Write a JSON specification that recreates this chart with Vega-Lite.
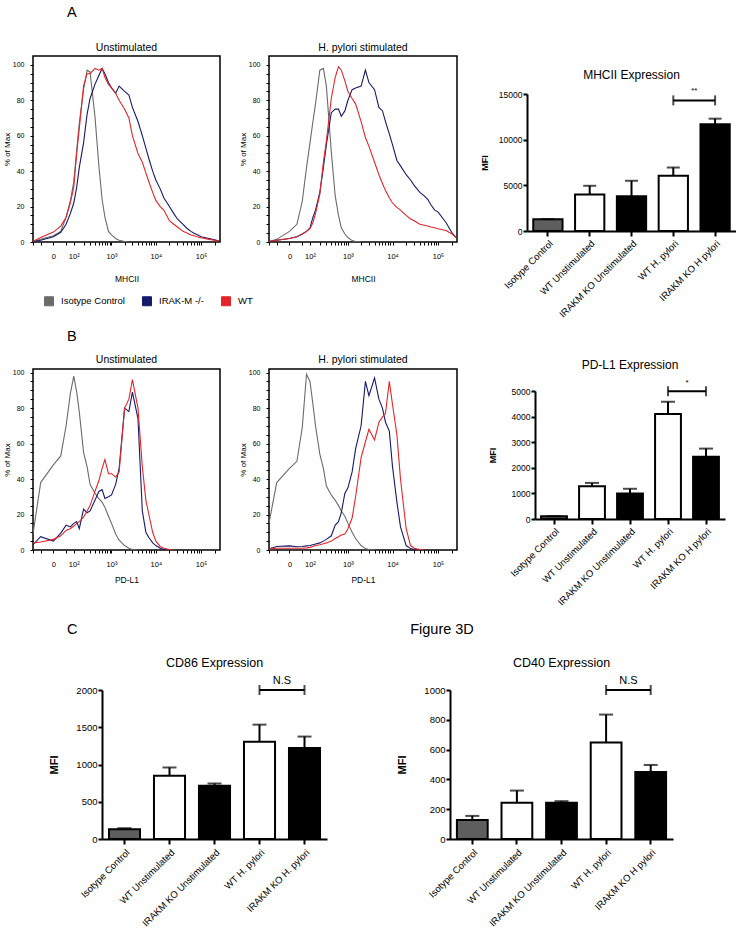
{
"$schema": "https://vega.github.io/schema/vega-lite/v6.json",
"padding": {"left": 2, "top": 4, "right": 0, "bottom": 0},
"bounds": "flush",
"spacing": 0,
"columns": 5,
"config": {
  "view": {"stroke": null},
  "font": "Liberation Sans",
  "title": {"fontWeight": "normal", "color": "black", "font": "Liberation Sans"},
  "axis": {"domainColor": "black", "tickColor": "black", "labelColor": "black", "titleColor": "black", "grid": false, "labelFont": "Liberation Sans", "titleFont": "Liberation Sans"},
  "legend": {"labelFont": "Liberation Sans", "labelColor": "black"}
},
"datasets": {
  "hist": [
    {"p":"A1","x":-100,"iso":0.3,"ko":0.3,"wt":0.4},
    {"p":"A1","x":-50,"iso":1.5,"ko":1,"wt":2.5},
    {"p":"A1","x":0,"iso":3.5,"ko":3,"wt":5.6},
    {"p":"A1","x":25,"iso":6,"ko":5.5,"wt":9},
    {"p":"A1","x":50,"iso":14,"ko":10,"wt":14},
    {"p":"A1","x":75,"iso":23,"ko":16,"wt":22},
    {"p":"A1","x":100,"iso":34,"ko":22,"wt":31},
    {"p":"A1","x":125,"iso":52,"ko":31,"wt":50},
    {"p":"A1","x":150,"iso":67,"ko":42,"wt":64},
    {"p":"A1","x":200,"iso":86,"ko":56,"wt":88},
    {"p":"A1","x":250,"iso":97,"ko":72,"wt":95},
    {"p":"A1","x":300,"iso":96,"ko":81,"wt":95},
    {"p":"A1","x":400,"iso":71,"ko":89,"wt":98},
    {"p":"A1","x":500,"iso":43,"ko":94,"wt":97},
    {"p":"A1","x":600,"iso":24,"ko":98,"wt":98},
    {"p":"A1","x":700,"iso":14,"ko":95,"wt":93},
    {"p":"A1","x":850,"iso":6,"ko":90,"wt":89},
    {"p":"A1","x":1000,"iso":4,"ko":87,"wt":87},
    {"p":"A1","x":1250,"iso":2,"ko":84,"wt":84},
    {"p":"A1","x":1500,"iso":1,"ko":88,"wt":80},
    {"p":"A1","x":2000,"iso":0.3,"ko":85,"wt":75},
    {"p":"A1","x":2500,"iso":0,"ko":83,"wt":70},
    {"p":"A1","x":3000,"iso":null,"ko":76,"wt":60},
    {"p":"A1","x":4000,"iso":null,"ko":68,"wt":50},
    {"p":"A1","x":5000,"iso":null,"ko":60,"wt":45},
    {"p":"A1","x":6000,"iso":null,"ko":53,"wt":39},
    {"p":"A1","x":7000,"iso":null,"ko":47,"wt":34},
    {"p":"A1","x":8500,"iso":null,"ko":40,"wt":28},
    {"p":"A1","x":10000,"iso":null,"ko":35,"wt":23.5},
    {"p":"A1","x":12500,"iso":null,"ko":30,"wt":20},
    {"p":"A1","x":15000,"iso":null,"ko":25,"wt":18},
    {"p":"A1","x":20000,"iso":null,"ko":20,"wt":12},
    {"p":"A1","x":25000,"iso":null,"ko":16,"wt":10},
    {"p":"A1","x":30000,"iso":null,"ko":13,"wt":8.5},
    {"p":"A1","x":40000,"iso":null,"ko":10,"wt":6},
    {"p":"A1","x":50000,"iso":null,"ko":7.5,"wt":5},
    {"p":"A1","x":60000,"iso":null,"ko":6,"wt":4},
    {"p":"A1","x":70000,"iso":null,"ko":5,"wt":3.5},
    {"p":"A1","x":85000,"iso":null,"ko":4,"wt":2.8},
    {"p":"A1","x":100000,"iso":null,"ko":3,"wt":2.4},
    {"p":"A1","x":150000,"iso":null,"ko":2,"wt":1.5},
    {"p":"A1","x":200000,"iso":null,"ko":1.2,"wt":1},
    {"p":"A1","x":250000,"iso":null,"ko":0.5,"wt":0.5},

    {"p":"A2","x":-100,"iso":0.3,"ko":0.3,"wt":0.3},
    {"p":"A2","x":-50,"iso":1.5,"ko":1,"wt":1},
    {"p":"A2","x":0,"iso":6,"ko":2,"wt":2},
    {"p":"A2","x":25,"iso":10,"ko":3,"wt":3},
    {"p":"A2","x":50,"iso":23,"ko":4.5,"wt":4.5},
    {"p":"A2","x":75,"iso":42,"ko":6,"wt":6},
    {"p":"A2","x":100,"iso":56,"ko":8,"wt":7.5},
    {"p":"A2","x":125,"iso":68,"ko":14,"wt":11},
    {"p":"A2","x":150,"iso":78,"ko":18,"wt":16},
    {"p":"A2","x":200,"iso":97,"ko":28,"wt":27},
    {"p":"A2","x":250,"iso":98,"ko":42,"wt":45},
    {"p":"A2","x":300,"iso":88,"ko":55,"wt":57},
    {"p":"A2","x":400,"iso":51,"ko":73,"wt":81},
    {"p":"A2","x":500,"iso":26,"ko":75,"wt":93},
    {"p":"A2","x":600,"iso":15,"ko":75,"wt":99},
    {"p":"A2","x":700,"iso":8,"ko":71,"wt":97},
    {"p":"A2","x":850,"iso":4.5,"ko":74,"wt":91},
    {"p":"A2","x":1000,"iso":2.5,"ko":80,"wt":85},
    {"p":"A2","x":1250,"iso":0.8,"ko":86,"wt":81},
    {"p":"A2","x":1500,"iso":0.2,"ko":87,"wt":78},
    {"p":"A2","x":2000,"iso":0,"ko":88,"wt":68},
    {"p":"A2","x":2500,"iso":null,"ko":97,"wt":59},
    {"p":"A2","x":3000,"iso":null,"ko":90,"wt":54},
    {"p":"A2","x":4000,"iso":null,"ko":86,"wt":45},
    {"p":"A2","x":5000,"iso":null,"ko":76,"wt":38},
    {"p":"A2","x":6000,"iso":null,"ko":74,"wt":33},
    {"p":"A2","x":7000,"iso":null,"ko":68,"wt":29},
    {"p":"A2","x":8500,"iso":null,"ko":61,"wt":25},
    {"p":"A2","x":10000,"iso":null,"ko":55,"wt":22},
    {"p":"A2","x":12500,"iso":null,"ko":46,"wt":19.5},
    {"p":"A2","x":15000,"iso":null,"ko":43,"wt":18},
    {"p":"A2","x":20000,"iso":null,"ko":38,"wt":15},
    {"p":"A2","x":25000,"iso":null,"ko":35,"wt":13},
    {"p":"A2","x":30000,"iso":null,"ko":32,"wt":12},
    {"p":"A2","x":40000,"iso":null,"ko":28,"wt":10},
    {"p":"A2","x":50000,"iso":null,"ko":26,"wt":9.5},
    {"p":"A2","x":60000,"iso":null,"ko":24,"wt":9},
    {"p":"A2","x":70000,"iso":null,"ko":21,"wt":8.5},
    {"p":"A2","x":85000,"iso":null,"ko":18,"wt":8},
    {"p":"A2","x":100000,"iso":null,"ko":17,"wt":7.5},
    {"p":"A2","x":150000,"iso":null,"ko":11,"wt":6.5},
    {"p":"A2","x":200000,"iso":null,"ko":5.5,"wt":4.7},
    {"p":"A2","x":250000,"iso":null,"ko":2.5,"wt":2.5},

    {"p":"B1","x":-100,"iso":9,"ko":3,"wt":4},
    {"p":"B1","x":-50,"iso":38,"ko":7.5,"wt":4.5},
    {"p":"B1","x":0,"iso":48,"ko":5,"wt":6},
    {"p":"B1","x":25,"iso":53,"ko":9.5,"wt":8},
    {"p":"B1","x":50,"iso":70,"ko":14,"wt":11},
    {"p":"B1","x":75,"iso":88,"ko":13,"wt":12},
    {"p":"B1","x":100,"iso":98,"ko":15,"wt":13.5},
    {"p":"B1","x":125,"iso":89,"ko":16,"wt":15},
    {"p":"B1","x":150,"iso":78,"ko":12,"wt":16},
    {"p":"B1","x":200,"iso":55,"ko":23,"wt":18.5},
    {"p":"B1","x":250,"iso":47,"ko":21,"wt":22},
    {"p":"B1","x":300,"iso":37,"ko":22,"wt":25},
    {"p":"B1","x":400,"iso":32,"ko":28,"wt":33},
    {"p":"B1","x":500,"iso":29,"ko":33,"wt":39},
    {"p":"B1","x":600,"iso":27,"ko":34,"wt":46},
    {"p":"B1","x":700,"iso":24,"ko":29,"wt":51},
    {"p":"B1","x":850,"iso":19,"ko":30,"wt":43},
    {"p":"B1","x":1000,"iso":15,"ko":31,"wt":43},
    {"p":"B1","x":1250,"iso":9,"ko":37,"wt":41},
    {"p":"B1","x":1500,"iso":5.5,"ko":46,"wt":44},
    {"p":"B1","x":2000,"iso":2.5,"ko":80,"wt":80},
    {"p":"B1","x":2500,"iso":1,"ko":78,"wt":85},
    {"p":"B1","x":3000,"iso":0.3,"ko":89,"wt":96},
    {"p":"B1","x":4000,"iso":0,"ko":74,"wt":80},
    {"p":"B1","x":5000,"iso":null,"ko":22,"wt":47},
    {"p":"B1","x":6000,"iso":null,"ko":10,"wt":28},
    {"p":"B1","x":7000,"iso":null,"ko":7,"wt":20},
    {"p":"B1","x":8500,"iso":null,"ko":4,"wt":10},
    {"p":"B1","x":10000,"iso":null,"ko":2.5,"wt":5},
    {"p":"B1","x":12500,"iso":null,"ko":1,"wt":2},
    {"p":"B1","x":15000,"iso":null,"ko":0.3,"wt":1},
    {"p":"B1","x":20000,"iso":null,"ko":0,"wt":0.2},
    {"p":"B1","x":25000,"iso":null,"ko":null,"wt":0},

    {"p":"B2","x":-100,"iso":15,"ko":0.7,"wt":0.5},
    {"p":"B2","x":-50,"iso":38,"ko":2,"wt":1},
    {"p":"B2","x":0,"iso":46,"ko":2.3,"wt":1},
    {"p":"B2","x":25,"iso":50,"ko":1.8,"wt":1},
    {"p":"B2","x":50,"iso":69,"ko":2,"wt":1},
    {"p":"B2","x":75,"iso":99,"ko":2.3,"wt":1.2},
    {"p":"B2","x":100,"iso":95,"ko":2.5,"wt":1.5},
    {"p":"B2","x":125,"iso":82,"ko":3,"wt":2},
    {"p":"B2","x":150,"iso":70,"ko":3.4,"wt":2.5},
    {"p":"B2","x":200,"iso":54,"ko":4,"wt":3},
    {"p":"B2","x":250,"iso":46,"ko":5,"wt":3.5},
    {"p":"B2","x":300,"iso":36,"ko":6,"wt":4},
    {"p":"B2","x":400,"iso":31,"ko":8,"wt":5},
    {"p":"B2","x":500,"iso":28,"ko":14,"wt":6.5},
    {"p":"B2","x":600,"iso":25,"ko":16,"wt":7.5},
    {"p":"B2","x":700,"iso":22,"ko":21,"wt":8.5},
    {"p":"B2","x":850,"iso":19,"ko":32,"wt":9},
    {"p":"B2","x":1000,"iso":15,"ko":35,"wt":12},
    {"p":"B2","x":1250,"iso":10,"ko":44,"wt":18},
    {"p":"B2","x":1500,"iso":6.5,"ko":57,"wt":30},
    {"p":"B2","x":2000,"iso":2.5,"ko":70,"wt":52},
    {"p":"B2","x":2500,"iso":0.8,"ko":95,"wt":61},
    {"p":"B2","x":3000,"iso":0.2,"ko":87,"wt":68},
    {"p":"B2","x":4000,"iso":0,"ko":97,"wt":62},
    {"p":"B2","x":5000,"iso":null,"ko":85,"wt":72},
    {"p":"B2","x":6000,"iso":null,"ko":80,"wt":75},
    {"p":"B2","x":7000,"iso":null,"ko":72,"wt":77},
    {"p":"B2","x":8500,"iso":null,"ko":67,"wt":95},
    {"p":"B2","x":10000,"iso":null,"ko":47,"wt":82},
    {"p":"B2","x":12500,"iso":null,"ko":27,"wt":65},
    {"p":"B2","x":15000,"iso":null,"ko":13,"wt":40},
    {"p":"B2","x":20000,"iso":null,"ko":2.5,"wt":12},
    {"p":"B2","x":25000,"iso":null,"ko":0.8,"wt":2.5},
    {"p":"B2","x":30000,"iso":null,"ko":0.3,"wt":1},
    {"p":"B2","x":40000,"iso":null,"ko":0,"wt":0.2},
    {"p":"B2","x":50000,"iso":null,"ko":null,"wt":0}
  ],
  "bars": [
    {"chart":"MHCII","grp":"Isotype Control","g":"iso","mean":1300,"hi":1300},
    {"chart":"MHCII","grp":"WT Unstimulated","g":"wt","mean":4000,"hi":4950},
    {"chart":"MHCII","grp":"IRAKM KO Unstimulated","g":"ko","mean":3800,"hi":5500},
    {"chart":"MHCII","grp":"WT H. pylori","g":"wt","mean":6050,"hi":6950},
    {"chart":"MHCII","grp":"IRAKM KO H pylori","g":"ko","mean":11700,"hi":12300},
    {"chart":"PD-L1","grp":"Isotype Control","g":"iso","mean":110,"hi":110},
    {"chart":"PD-L1","grp":"WT Unstimulated","g":"wt","mean":1280,"hi":1410},
    {"chart":"PD-L1","grp":"IRAKM KO Unstimulated","g":"ko","mean":1000,"hi":1180},
    {"chart":"PD-L1","grp":"WT H. pylori","g":"wt","mean":4100,"hi":4580},
    {"chart":"PD-L1","grp":"IRAKM KO H pylori","g":"ko","mean":2430,"hi":2750},
    {"chart":"CD86","grp":"Isotype Control","g":"iso","mean":130,"hi":145},
    {"chart":"CD86","grp":"WT Unstimulated","g":"wt","mean":850,"hi":960},
    {"chart":"CD86","grp":"IRAKM KO Unstimulated","g":"ko","mean":715,"hi":745},
    {"chart":"CD86","grp":"WT H. pylori","g":"wt","mean":1305,"hi":1535},
    {"chart":"CD86","grp":"IRAKM KO H. pylori","g":"ko","mean":1220,"hi":1375},
    {"chart":"CD40","grp":"Isotype Control","g":"iso","mean":128,"hi":155},
    {"chart":"CD40","grp":"WT Unstimulated","g":"wt","mean":243,"hi":325},
    {"chart":"CD40","grp":"IRAKM KO Unstimulated","g":"ko","mean":243,"hi":254},
    {"chart":"CD40","grp":"WT H. pylori","g":"wt","mean":647,"hi":835},
    {"chart":"CD40","grp":"IRAKM KO H pylori","g":"ko","mean":449,"hi":497}
  ],
  "sig": [
    {"chart":"MHCII","grp":"WT H. pylori","y":14300,"lab":"**"},
    {"chart":"MHCII","grp":"IRAKM KO H pylori","y":14300,"lab":""},
    {"chart":"PD-L1","grp":"WT H. pylori","y":4990,"lab":"*"},
    {"chart":"PD-L1","grp":"IRAKM KO H pylori","y":4990,"lab":""},
    {"chart":"CD86","grp":"WT H. pylori","y":2000,"lab":"N.S"},
    {"chart":"CD86","grp":"IRAKM KO H. pylori","y":2000,"lab":""},
    {"chart":"CD40","grp":"WT H. pylori","y":1000,"lab":"N.S"},
    {"chart":"CD40","grp":"IRAKM KO H pylori","y":1000,"lab":""}
  ]
},
"concat": [
  {
    "width": 187, "height": 186,
    "view": {"stroke": "black", "strokeWidth": 1.5},
    "title": {"text": "Unstimulated", "fontSize": 10.5, "offset": 3},
    "data": {"name": "hist"},
    "transform": [{"filter": "datum.p === 'A1'"}, {"fold": ["iso", "ko", "wt"], "as": ["s", "pct"]}],
    "mark": {"type": "line", "strokeWidth": 1.1, "clip": true},
    "encoding": {
      "x": {"field": "x", "type": "quantitative", "scale": {"type": "symlog", "constant": 55, "domain": [-100, 262144], "nice": false},
            "axis": {"title": "MHCII", "titleFontSize": 8.5, "titleFontWeight": "normal", "titlePadding": 15, "values": [-100,-50,0,50,100,200,300,400,500,600,700,800,900,1000,2000,3000,4000,5000,6000,7000,8000,9000,10000,20000,30000,40000,50000,60000,70000,80000,90000,100000,200000], "labelExpr": "datum.value === 0 ? '0' : datum.value === 100 ? '10²' : datum.value === 1000 ? '10³' : datum.value === 10000 ? '10⁴' : datum.value === 100000 ? '10⁵' : ''", "labelFontSize": 7.5, "tickSize": 3, "labelPadding": 7, "domain": false, "labelOverlap": false, "labelFlush": false}},
      "y": {"field": "pct", "type": "quantitative", "scale": {"domain": [0, 105], "nice": false},
            "axis": {"title": "% of Max", "titleFontSize": 8, "titleFontWeight": "normal", "titlePadding": 1, "values": [0,5,10,15,20,25,30,35,40,45,50,55,60,65,70,75,80,85,90,95,100], "labelExpr": "datum.value % 20 === 0 ? datum.label : ''", "labelFontSize": 7, "tickSize": 3, "labelPadding": 6, "domain": false, "labelOverlap": false}},
      "color": {"field": "s", "type": "nominal", "scale": {"domain": ["iso", "ko", "wt"], "range": ["#6b6b6b", "#161a6b", "#e3262a"]},
                "legend": {"orient": "none", "legendX": 11, "legendY": 240, "direction": "horizontal", "title": null, "symbolType": "square", "symbolSize": 81, "symbolStrokeColor": "black", "symbolStrokeWidth": 1, "labelFontSize": 9.5, "labelOffset": 7, "columnPadding": 15, "padding": 0,
                           "labelExpr": "datum.label === 'iso' ? 'Isotype Control' : datum.label === 'ko' ? 'IRAK-M -/-' : 'WT'",
                           "encode": {"symbols": {"update": {"fill": {"scale": "color", "field": "value"}, "fillOpacity": {"value": 1}, "stroke": {"value": "black"}}}}}}
    }
  },
  {"width": 49, "height": 10, "title": {"text": "A", "fontSize": 14.5, "anchor": "start", "frame": "group", "dx": -153, "offset": 35}, "data": {"values": [{}]}, "mark": {"type": "text", "text": ""}},
  {
    "width": 188, "height": 186,
    "view": {"stroke": "black", "strokeWidth": 1.5},
    "title": {"text": "H. pylori stimulated", "fontSize": 10.5, "offset": 3},
    "data": {"name": "hist"},
    "transform": [{"filter": "datum.p === 'A2'"}, {"fold": ["iso", "ko", "wt"], "as": ["s", "pct"]}],
    "mark": {"type": "line", "strokeWidth": 1.1, "clip": true},
    "encoding": {
      "x": {"field": "x", "type": "quantitative", "scale": {"type": "symlog", "constant": 55, "domain": [-100, 262144], "nice": false},
            "axis": {"title": "MHCII", "titleFontSize": 8.5, "titleFontWeight": "normal", "titlePadding": 15, "values": [-100,-50,0,50,100,200,300,400,500,600,700,800,900,1000,2000,3000,4000,5000,6000,7000,8000,9000,10000,20000,30000,40000,50000,60000,70000,80000,90000,100000,200000], "labelExpr": "datum.value === 0 ? '0' : datum.value === 100 ? '10²' : datum.value === 1000 ? '10³' : datum.value === 10000 ? '10⁴' : datum.value === 100000 ? '10⁵' : ''", "labelFontSize": 7.5, "tickSize": 3, "labelPadding": 7, "domain": false, "labelOverlap": false, "labelFlush": false}},
      "y": {"field": "pct", "type": "quantitative", "scale": {"domain": [0, 105], "nice": false},
            "axis": {"title": "% of Max", "titleFontSize": 8, "titleFontWeight": "normal", "titlePadding": 1, "values": [0,5,10,15,20,25,30,35,40,45,50,55,60,65,70,75,80,85,90,95,100], "labelExpr": "datum.value % 20 === 0 ? datum.label : ''", "labelFontSize": 7, "tickSize": 3, "labelPadding": 6, "domain": false, "labelOverlap": false}},
      "color": {"field": "s", "type": "nominal", "scale": {"domain": ["iso", "ko", "wt"], "range": ["#6b6b6b", "#161a6b", "#e3262a"]}, "legend": null}
    }
  },
  {"width": 70, "height": 10, "data": {"values": [{}]}, "mark": {"type": "text", "text": ""}},
  {
    "bounds": "flush", "spacing": 0,
    "vconcat": [
      {"width": 209, "height": 38, "data": {"values": [{}]}, "mark": {"type": "text", "text": ""}},
      {
        "width": 209, "height": 137,
        "title": {"text": "MHCII Expression", "fontSize": 12, "offset": 5},
        "data": {"name": "bars"},
        "transform": [{"filter": "datum.chart === 'MHCII'"}],
        "encoding": {"x": {"field": "grp", "type": "nominal", "scale": {"domain": ["Isotype Control","WT Unstimulated","IRAKM KO Unstimulated","WT H. pylori","IRAKM KO H pylori"], "paddingInner": 0.3, "paddingOuter": 0.15},
                           "axis": {"title": null, "labelAngle": -45, "labelFontSize": 9.5, "tickSize": 5, "tickWidth": 2, "domainWidth": 2, "labelPadding": 2}}},
        "layer": [
          {"mark": {"type": "bar", "stroke": "black", "strokeWidth": 2},
           "encoding": {"y": {"field": "mean", "type": "quantitative", "scale": {"domain": [0, 15000], "nice": false}, "axis": {"values": [0, 5000, 10000, 15000], "format": "d", "labelOverlap": false, "title": "MFI", "titleFontSize": 9, "titleFontWeight": "bold", "titlePadding": 9, "labelFontSize": 8.5, "tickSize": 4, "tickWidth": 2, "domainWidth": 2, "labelPadding": 1}},
                        "fill": {"field": "g", "type": "nominal", "scale": {"domain": ["iso", "wt", "ko"], "range": ["#5e5e5e", "#ffffff", "#000000"]}, "legend": null}}},
          {"mark": {"type": "rule", "color": "black", "strokeWidth": 2}, "encoding": {"y": {"field": "mean", "type": "quantitative", "scale": {"domain": [0, 15000], "nice": false}, "axis": {"values": [0, 5000, 10000, 15000], "format": "d", "labelOverlap": false, "title": "MFI", "titleFontSize": 9, "titleFontWeight": "bold", "titlePadding": 9, "labelFontSize": 8.5, "tickSize": 4, "tickWidth": 2, "domainWidth": 2, "labelPadding": 1}}, "y2": {"field": "hi"}}},
          {"mark": {"type": "tick", "color": "black", "thickness": 2, "size": 13}, "encoding": {"y": {"field": "hi", "type": "quantitative", "scale": {"domain": [0, 15000], "nice": false}, "axis": {"values": [0, 5000, 10000, 15000], "format": "d", "labelOverlap": false, "title": "MFI", "titleFontSize": 9, "titleFontWeight": "bold", "titlePadding": 9, "labelFontSize": 8.5, "tickSize": 4, "tickWidth": 2, "domainWidth": 2, "labelPadding": 1}}}},
          {"data": {"name": "sig"}, "transform": [{"filter": "datum.chart === 'MHCII'"}], "mark": {"type": "line", "color": "black", "strokeWidth": 2}, "encoding": {"y": {"field": "y", "type": "quantitative", "scale": {"domain": [0, 15000], "nice": false}, "axis": {"values": [0, 5000, 10000, 15000], "format": "d", "labelOverlap": false, "title": "MFI", "titleFontSize": 9, "titleFontWeight": "bold", "titlePadding": 9, "labelFontSize": 8.5, "tickSize": 4, "tickWidth": 2, "domainWidth": 2, "labelPadding": 1}}}},
          {"data": {"name": "sig"}, "transform": [{"filter": "datum.chart === 'MHCII'"}], "mark": {"type": "tick", "orient": "vertical", "color": "black", "thickness": 2, "size": 10}, "encoding": {"y": {"field": "y", "type": "quantitative", "scale": {"domain": [0, 15000], "nice": false}, "axis": {"values": [0, 5000, 10000, 15000], "format": "d", "labelOverlap": false, "title": "MFI", "titleFontSize": 9, "titleFontWeight": "bold", "titlePadding": 9, "labelFontSize": 8.5, "tickSize": 4, "tickWidth": 2, "domainWidth": 2, "labelPadding": 1}}}},
          {"data": {"name": "sig"}, "transform": [{"filter": "datum.chart === 'MHCII' && datum.lab !== ''"}], "mark": {"type": "text", "dx": 21, "dy": -5, "baseline": "bottom", "fontSize": 8, "color": "black"}, "encoding": {"y": {"field": "y", "type": "quantitative", "scale": {"domain": [0, 15000], "nice": false}, "axis": {"values": [0, 5000, 10000, 15000], "format": "d", "labelOverlap": false, "title": "MFI", "titleFontSize": 9, "titleFontWeight": "bold", "titlePadding": 9, "labelFontSize": 8.5, "tickSize": 4, "tickWidth": 2, "domainWidth": 2, "labelPadding": 1}}, "text": {"field": "lab"}}}
        ]
      }
    ]
  },

  {"width": 1, "height": 127, "data": {"values": [{}]}, "mark": {"type": "text", "text": ""}},
  {"width": 0, "height": 0, "data": {"values": [{}]}, "mark": {"type": "text", "text": ""}},
  {"width": 0, "height": 0, "data": {"values": [{}]}, "mark": {"type": "text", "text": ""}},
  {"width": 0, "height": 0, "data": {"values": [{}]}, "mark": {"type": "text", "text": ""}},
  {"width": 0, "height": 0, "data": {"values": [{}]}, "mark": {"type": "text", "text": ""}},

  {
    "width": 187, "height": 181,
    "view": {"stroke": "black", "strokeWidth": 1.5},
    "title": {"text": "Unstimulated", "fontSize": 10.5, "offset": 3},
    "data": {"name": "hist"},
    "transform": [{"filter": "datum.p === 'B1'"}, {"fold": ["iso", "ko", "wt"], "as": ["s", "pct"]}],
    "mark": {"type": "line", "strokeWidth": 1.1, "clip": true},
    "encoding": {
      "x": {"field": "x", "type": "quantitative", "scale": {"type": "symlog", "constant": 55, "domain": [-100, 262144], "nice": false},
            "axis": {"title": "PD-L1", "titleFontSize": 8.5, "titleFontWeight": "normal", "titlePadding": 8, "values": [-100,-50,0,50,100,200,300,400,500,600,700,800,900,1000,2000,3000,4000,5000,6000,7000,8000,9000,10000,20000,30000,40000,50000,60000,70000,80000,90000,100000,200000], "labelExpr": "datum.value === 0 ? '0' : datum.value === 100 ? '10²' : datum.value === 1000 ? '10³' : datum.value === 10000 ? '10⁴' : datum.value === 100000 ? '10⁵' : ''", "labelFontSize": 7.5, "tickSize": 3, "labelPadding": 7, "domain": false, "labelOverlap": false, "labelFlush": false}},
      "y": {"field": "pct", "type": "quantitative", "scale": {"domain": [0, 102], "nice": false},
            "axis": {"title": "% of Max", "titleFontSize": 8, "titleFontWeight": "normal", "titlePadding": 1, "values": [0,5,10,15,20,25,30,35,40,45,50,55,60,65,70,75,80,85,90,95,100], "labelExpr": "datum.value % 20 === 0 ? datum.label : ''", "labelFontSize": 7, "tickSize": 3, "labelPadding": 6, "domain": false, "labelOverlap": false}},
      "color": {"field": "s", "type": "nominal", "scale": {"domain": ["iso", "ko", "wt"], "range": ["#6b6b6b", "#161a6b", "#e3262a"]}, "legend": null}
    }
  },
  {"width": 49, "height": 10, "title": {"text": "B", "fontSize": 14.5, "anchor": "start", "frame": "group", "dx": -153, "offset": 24}, "data": {"values": [{}]}, "mark": {"type": "text", "text": ""}},
  {
    "width": 188, "height": 181,
    "view": {"stroke": "black", "strokeWidth": 1.5},
    "title": {"text": "H. pylori stimulated", "fontSize": 10.5, "offset": 3},
    "data": {"name": "hist"},
    "transform": [{"filter": "datum.p === 'B2'"}, {"fold": ["iso", "ko", "wt"], "as": ["s", "pct"]}],
    "mark": {"type": "line", "strokeWidth": 1.1, "clip": true},
    "encoding": {
      "x": {"field": "x", "type": "quantitative", "scale": {"type": "symlog", "constant": 55, "domain": [-100, 262144], "nice": false},
            "axis": {"title": "PD-L1", "titleFontSize": 8.5, "titleFontWeight": "normal", "titlePadding": 8, "values": [-100,-50,0,50,100,200,300,400,500,600,700,800,900,1000,2000,3000,4000,5000,6000,7000,8000,9000,10000,20000,30000,40000,50000,60000,70000,80000,90000,100000,200000], "labelExpr": "datum.value === 0 ? '0' : datum.value === 100 ? '10²' : datum.value === 1000 ? '10³' : datum.value === 10000 ? '10⁴' : datum.value === 100000 ? '10⁵' : ''", "labelFontSize": 7.5, "tickSize": 3, "labelPadding": 7, "domain": false, "labelOverlap": false, "labelFlush": false}},
      "y": {"field": "pct", "type": "quantitative", "scale": {"domain": [0, 102], "nice": false},
            "axis": {"title": "% of Max", "titleFontSize": 8, "titleFontWeight": "normal", "titlePadding": 1, "values": [0,5,10,15,20,25,30,35,40,45,50,55,60,65,70,75,80,85,90,95,100], "labelExpr": "datum.value % 20 === 0 ? datum.label : ''", "labelFontSize": 7, "tickSize": 3, "labelPadding": 6, "domain": false, "labelOverlap": false}},
      "color": {"field": "s", "type": "nominal", "scale": {"domain": ["iso", "ko", "wt"], "range": ["#6b6b6b", "#161a6b", "#e3262a"]}, "legend": null}
    }
  },
  {"width": 70, "height": 10, "data": {"values": [{}]}, "mark": {"type": "text", "text": ""}},
  {
    "bounds": "flush", "spacing": 0,
    "vconcat": [
      {"width": 190, "height": 22, "data": {"values": [{}]}, "mark": {"type": "text", "text": ""}},
      {
        "bounds": "flush", "spacing": 0,
        "hconcat": [
          {"width": 8, "height": 10, "data": {"values": [{}]}, "mark": {"type": "text", "text": ""}},
          {
            "width": 190, "height": 128,
            "title": {"text": "PD-L1 Expression", "fontSize": 12, "offset": 7},
            "data": {"name": "bars"},
            "transform": [{"filter": "datum.chart === 'PD-L1'"}],
            "encoding": {"x": {"field": "grp", "type": "nominal", "scale": {"domain": ["Isotype Control","WT Unstimulated","IRAKM KO Unstimulated","WT H. pylori","IRAKM KO H pylori"], "paddingInner": 0.32, "paddingOuter": 0.16},
                               "axis": {"title": null, "labelAngle": -45, "labelFontSize": 9.5, "tickSize": 5, "tickWidth": 2, "domainWidth": 2, "labelPadding": 2}}},
            "layer": [
              {"mark": {"type": "bar", "stroke": "black", "strokeWidth": 2},
               "encoding": {"y": {"field": "mean", "type": "quantitative", "scale": {"domain": [0, 5000], "nice": false}, "axis": {"values": [0, 1000, 2000, 3000, 4000, 5000], "format": "d", "labelOverlap": false, "title": "MFI", "titleFontSize": 9, "titleFontWeight": "bold", "titlePadding": 14, "labelFontSize": 8.5, "tickSize": 4, "tickWidth": 2, "domainWidth": 2, "labelPadding": 1}},
                            "fill": {"field": "g", "type": "nominal", "scale": {"domain": ["iso", "wt", "ko"], "range": ["#5e5e5e", "#ffffff", "#000000"]}, "legend": null}}},
              {"mark": {"type": "rule", "color": "black", "strokeWidth": 2}, "encoding": {"y": {"field": "mean", "type": "quantitative", "scale": {"domain": [0, 5000], "nice": false}, "axis": {"values": [0, 1000, 2000, 3000, 4000, 5000], "format": "d", "labelOverlap": false, "title": "MFI", "titleFontSize": 9, "titleFontWeight": "bold", "titlePadding": 14, "labelFontSize": 8.5, "tickSize": 4, "tickWidth": 2, "domainWidth": 2, "labelPadding": 1}}, "y2": {"field": "hi"}}},
              {"mark": {"type": "tick", "color": "black", "thickness": 2, "size": 14}, "encoding": {"y": {"field": "hi", "type": "quantitative", "scale": {"domain": [0, 5000], "nice": false}, "axis": {"values": [0, 1000, 2000, 3000, 4000, 5000], "format": "d", "labelOverlap": false, "title": "MFI", "titleFontSize": 9, "titleFontWeight": "bold", "titlePadding": 14, "labelFontSize": 8.5, "tickSize": 4, "tickWidth": 2, "domainWidth": 2, "labelPadding": 1}}}},
              {"data": {"name": "sig"}, "transform": [{"filter": "datum.chart === 'PD-L1'"}], "mark": {"type": "line", "color": "black", "strokeWidth": 2}, "encoding": {"y": {"field": "y", "type": "quantitative", "scale": {"domain": [0, 5000], "nice": false}, "axis": {"values": [0, 1000, 2000, 3000, 4000, 5000], "format": "d", "labelOverlap": false, "title": "MFI", "titleFontSize": 9, "titleFontWeight": "bold", "titlePadding": 14, "labelFontSize": 8.5, "tickSize": 4, "tickWidth": 2, "domainWidth": 2, "labelPadding": 1}}}},
              {"data": {"name": "sig"}, "transform": [{"filter": "datum.chart === 'PD-L1'"}], "mark": {"type": "tick", "orient": "vertical", "color": "black", "thickness": 2, "size": 10}, "encoding": {"y": {"field": "y", "type": "quantitative", "scale": {"domain": [0, 5000], "nice": false}, "axis": {"values": [0, 1000, 2000, 3000, 4000, 5000], "format": "d", "labelOverlap": false, "title": "MFI", "titleFontSize": 9, "titleFontWeight": "bold", "titlePadding": 14, "labelFontSize": 8.5, "tickSize": 4, "tickWidth": 2, "domainWidth": 2, "labelPadding": 1}}}},
              {"data": {"name": "sig"}, "transform": [{"filter": "datum.chart === 'PD-L1' && datum.lab !== ''"}], "mark": {"type": "text", "dx": 19, "dy": -4, "baseline": "bottom", "fontSize": 8, "color": "black"}, "encoding": {"y": {"field": "y", "type": "quantitative", "scale": {"domain": [0, 5000], "nice": false}, "axis": {"values": [0, 1000, 2000, 3000, 4000, 5000], "format": "d", "labelOverlap": false, "title": "MFI", "titleFontSize": 9, "titleFontWeight": "bold", "titlePadding": 14, "labelFontSize": 8.5, "tickSize": 4, "tickWidth": 2, "domainWidth": 2, "labelPadding": 1}}, "text": {"field": "lab"}}}
            ]
          }
        ]
      }
    ]
  },

  {"width": 1, "height": 140, "data": {"values": [{}]}, "mark": {"type": "text", "text": ""}},
  {"width": 0, "height": 0, "data": {"values": [{}]}, "mark": {"type": "text", "text": ""}},
  {"width": 0, "height": 0, "data": {"values": [{}]}, "mark": {"type": "text", "text": ""}},
  {"width": 0, "height": 0, "data": {"values": [{}]}, "mark": {"type": "text", "text": ""}},
  {"width": 0, "height": 0, "data": {"values": [{}]}, "mark": {"type": "text", "text": ""}},

  {
    "bounds": "flush", "spacing": 0,
    "hconcat": [
      {"width": 68.5, "height": 149, "title": {"text": "C", "fontSize": 14.5, "anchor": "start", "frame": "group", "dx": 34, "offset": 53}, "data": {"values": [{}]}, "mark": {"type": "text", "text": ""}},
      {
        "width": 225, "height": 149,
        "title": {"text": "CD86 Expression", "fontSize": 12.5, "offset": 6},
        "data": {"name": "bars"},
        "transform": [{"filter": "datum.chart === 'CD86'"}],
        "encoding": {"x": {"field": "grp", "type": "nominal", "scale": {"domain": ["Isotype Control","WT Unstimulated","IRAKM KO Unstimulated","WT H. pylori","IRAKM KO H. pylori"], "paddingInner": 0.31, "paddingOuter": 0.155},
                           "axis": {"title": null, "labelAngle": -45, "labelFontSize": 9.5, "tickSize": 5, "tickWidth": 2, "domainWidth": 2, "labelPadding": 3}}},
        "layer": [
          {"mark": {"type": "bar", "stroke": "black", "strokeWidth": 2},
           "encoding": {"y": {"field": "mean", "type": "quantitative", "scale": {"domain": [0, 2000], "nice": false}, "axis": {"values": [0, 500, 1000, 1500, 2000], "format": "d", "labelOverlap": false, "title": "MFI", "titleFontSize": 11, "titleFontWeight": "bold", "titlePadding": 16, "labelFontSize": 9.5, "tickSize": 4, "tickWidth": 2, "domainWidth": 2, "labelPadding": 1}},
                        "fill": {"field": "g", "type": "nominal", "scale": {"domain": ["iso", "wt", "ko"], "range": ["#5e5e5e", "#ffffff", "#000000"]}, "legend": null}}},
          {"mark": {"type": "rule", "color": "black", "strokeWidth": 2}, "encoding": {"y": {"field": "mean", "type": "quantitative", "scale": {"domain": [0, 2000], "nice": false}, "axis": {"values": [0, 500, 1000, 1500, 2000], "format": "d", "labelOverlap": false, "title": "MFI", "titleFontSize": 11, "titleFontWeight": "bold", "titlePadding": 16, "labelFontSize": 9.5, "tickSize": 4, "tickWidth": 2, "domainWidth": 2, "labelPadding": 1}}, "y2": {"field": "hi"}}},
          {"mark": {"type": "tick", "color": "black", "thickness": 2, "size": 14}, "encoding": {"y": {"field": "hi", "type": "quantitative", "scale": {"domain": [0, 2000], "nice": false}, "axis": {"values": [0, 500, 1000, 1500, 2000], "format": "d", "labelOverlap": false, "title": "MFI", "titleFontSize": 11, "titleFontWeight": "bold", "titlePadding": 16, "labelFontSize": 9.5, "tickSize": 4, "tickWidth": 2, "domainWidth": 2, "labelPadding": 1}}}},
          {"data": {"name": "sig"}, "transform": [{"filter": "datum.chart === 'CD86'"}], "mark": {"type": "line", "color": "black", "strokeWidth": 2}, "encoding": {"y": {"field": "y", "type": "quantitative", "scale": {"domain": [0, 2000], "nice": false}, "axis": {"values": [0, 500, 1000, 1500, 2000], "format": "d", "labelOverlap": false, "title": "MFI", "titleFontSize": 11, "titleFontWeight": "bold", "titlePadding": 16, "labelFontSize": 9.5, "tickSize": 4, "tickWidth": 2, "domainWidth": 2, "labelPadding": 1}}}},
          {"data": {"name": "sig"}, "transform": [{"filter": "datum.chart === 'CD86'"}], "mark": {"type": "tick", "orient": "vertical", "color": "black", "thickness": 2, "size": 10}, "encoding": {"y": {"field": "y", "type": "quantitative", "scale": {"domain": [0, 2000], "nice": false}, "axis": {"values": [0, 500, 1000, 1500, 2000], "format": "d", "labelOverlap": false, "title": "MFI", "titleFontSize": 11, "titleFontWeight": "bold", "titlePadding": 16, "labelFontSize": 9.5, "tickSize": 4, "tickWidth": 2, "domainWidth": 2, "labelPadding": 1}}}},
          {"data": {"name": "sig"}, "transform": [{"filter": "datum.chart === 'CD86' && datum.lab !== ''"}], "mark": {"type": "text", "dx": 22.5, "dy": -4, "baseline": "bottom", "fontSize": 11, "color": "black"}, "encoding": {"y": {"field": "y", "type": "quantitative", "scale": {"domain": [0, 2000], "nice": false}, "axis": {"values": [0, 500, 1000, 1500, 2000], "format": "d", "labelOverlap": false, "title": "MFI", "titleFontSize": 11, "titleFontWeight": "bold", "titlePadding": 16, "labelFontSize": 9.5, "tickSize": 4, "tickWidth": 2, "domainWidth": 2, "labelPadding": 1}}, "text": {"field": "lab"}}}
        ]
      }
    ]
  },
  {"width": 0, "height": 0, "data": {"values": [{}]}, "mark": {"type": "text", "text": ""}},
  {
    "bounds": "flush", "spacing": 0,
    "hconcat": [
      {"width": 181, "height": 149, "title": {"text": "Figure 3D", "fontSize": 14.5, "anchor": "middle", "frame": "group", "dx": 82.5, "offset": 53}, "data": {"values": [{}]}, "mark": {"type": "text", "text": ""}},
      {
        "width": 223, "height": 149,
        "title": {"text": "CD40 Expression", "fontSize": 12.5, "offset": 6},
        "data": {"name": "bars"},
        "transform": [{"filter": "datum.chart === 'CD40'"}],
        "encoding": {"x": {"field": "grp", "type": "nominal", "scale": {"domain": ["Isotype Control","WT Unstimulated","IRAKM KO Unstimulated","WT H. pylori","IRAKM KO H pylori"], "paddingInner": 0.31, "paddingOuter": 0.155},
                           "axis": {"title": null, "labelAngle": -45, "labelFontSize": 9.5, "tickSize": 5, "tickWidth": 2, "domainWidth": 2, "labelPadding": 3}}},
        "layer": [
          {"mark": {"type": "bar", "stroke": "black", "strokeWidth": 2},
           "encoding": {"y": {"field": "mean", "type": "quantitative", "scale": {"domain": [0, 1000], "nice": false}, "axis": {"values": [0, 200, 400, 600, 800, 1000], "format": "d", "labelOverlap": false, "title": "MFI", "titleFontSize": 11, "titleFontWeight": "bold", "titlePadding": 16, "labelFontSize": 9.5, "tickSize": 4, "tickWidth": 2, "domainWidth": 2, "labelPadding": 1}},
                        "fill": {"field": "g", "type": "nominal", "scale": {"domain": ["iso", "wt", "ko"], "range": ["#5e5e5e", "#ffffff", "#000000"]}, "legend": null}}},
          {"mark": {"type": "rule", "color": "black", "strokeWidth": 2}, "encoding": {"y": {"field": "mean", "type": "quantitative", "scale": {"domain": [0, 1000], "nice": false}, "axis": {"values": [0, 200, 400, 600, 800, 1000], "format": "d", "labelOverlap": false, "title": "MFI", "titleFontSize": 11, "titleFontWeight": "bold", "titlePadding": 16, "labelFontSize": 9.5, "tickSize": 4, "tickWidth": 2, "domainWidth": 2, "labelPadding": 1}}, "y2": {"field": "hi"}}},
          {"mark": {"type": "tick", "color": "black", "thickness": 2, "size": 14}, "encoding": {"y": {"field": "hi", "type": "quantitative", "scale": {"domain": [0, 1000], "nice": false}, "axis": {"values": [0, 200, 400, 600, 800, 1000], "format": "d", "labelOverlap": false, "title": "MFI", "titleFontSize": 11, "titleFontWeight": "bold", "titlePadding": 16, "labelFontSize": 9.5, "tickSize": 4, "tickWidth": 2, "domainWidth": 2, "labelPadding": 1}}}},
          {"data": {"name": "sig"}, "transform": [{"filter": "datum.chart === 'CD40'"}], "mark": {"type": "line", "color": "black", "strokeWidth": 2}, "encoding": {"y": {"field": "y", "type": "quantitative", "scale": {"domain": [0, 1000], "nice": false}, "axis": {"values": [0, 200, 400, 600, 800, 1000], "format": "d", "labelOverlap": false, "title": "MFI", "titleFontSize": 11, "titleFontWeight": "bold", "titlePadding": 16, "labelFontSize": 9.5, "tickSize": 4, "tickWidth": 2, "domainWidth": 2, "labelPadding": 1}}}},
          {"data": {"name": "sig"}, "transform": [{"filter": "datum.chart === 'CD40'"}], "mark": {"type": "tick", "orient": "vertical", "color": "black", "thickness": 2, "size": 10}, "encoding": {"y": {"field": "y", "type": "quantitative", "scale": {"domain": [0, 1000], "nice": false}, "axis": {"values": [0, 200, 400, 600, 800, 1000], "format": "d", "labelOverlap": false, "title": "MFI", "titleFontSize": 11, "titleFontWeight": "bold", "titlePadding": 16, "labelFontSize": 9.5, "tickSize": 4, "tickWidth": 2, "domainWidth": 2, "labelPadding": 1}}}},
          {"data": {"name": "sig"}, "transform": [{"filter": "datum.chart === 'CD40' && datum.lab !== ''"}], "mark": {"type": "text", "dx": 22.3, "dy": -4, "baseline": "bottom", "fontSize": 11, "color": "black"}, "encoding": {"y": {"field": "y", "type": "quantitative", "scale": {"domain": [0, 1000], "nice": false}, "axis": {"values": [0, 200, 400, 600, 800, 1000], "format": "d", "labelOverlap": false, "title": "MFI", "titleFontSize": 11, "titleFontWeight": "bold", "titlePadding": 16, "labelFontSize": 9.5, "tickSize": 4, "tickWidth": 2, "domainWidth": 2, "labelPadding": 1}}, "text": {"field": "lab"}}}
        ]
      }
    ]
  },
  {"width": 0, "height": 0, "data": {"values": [{}]}, "mark": {"type": "text", "text": ""}},
  {"width": 0, "height": 0, "data": {"values": [{}]}, "mark": {"type": "text", "text": ""}}
]
}
